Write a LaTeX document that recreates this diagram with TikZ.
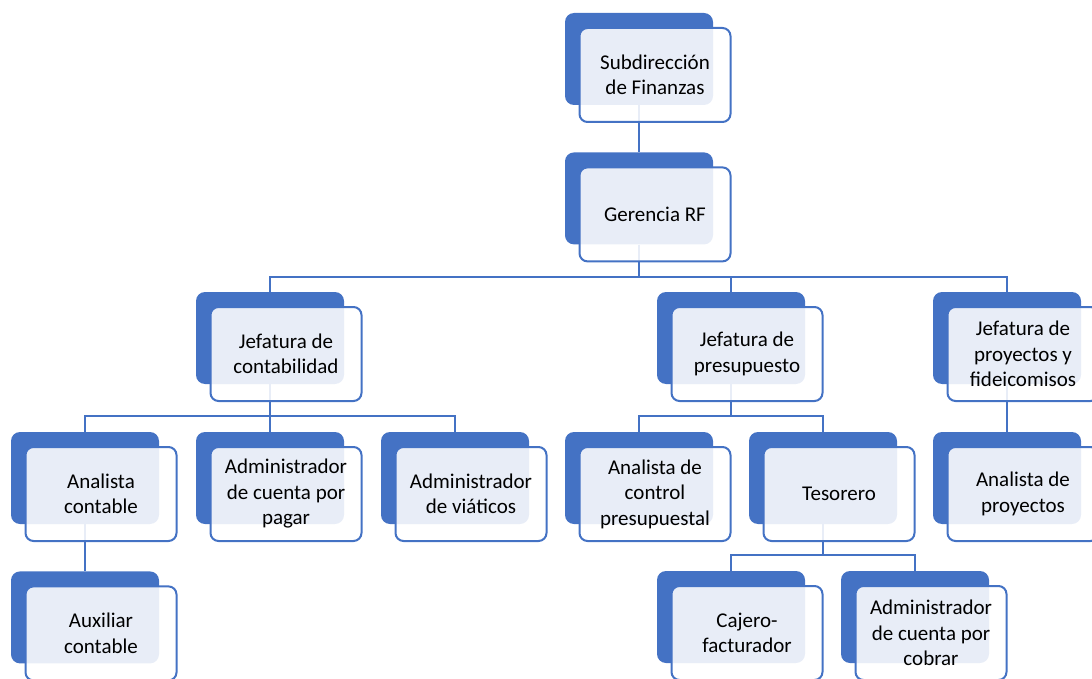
\documentclass[tikz,border=0pt]{standalone}
\usepackage{fontspec}
\setmainfont{Carlito}
\usetikzlibrary{positioning,backgrounds}
\definecolor{orgblue}{HTML}{4472C4}

\begin{document}
\begin{tikzpicture}[x=1pt,y=-1pt,
  every node/.style={font=\fontsize{21}{25.5}\selectfont},
  back/.style={fill=orgblue, rounded corners=9pt, inner sep=0pt,
    minimum width=148pt, minimum height=92pt},
  front/.style={draw=orgblue, line width=2pt, fill=white, fill opacity=0.88,
    text opacity=1, rounded corners=8pt, inner sep=0pt, align=center,
    minimum width=151pt, minimum height=94pt},
  link/.style={draw=orgblue, line width=2pt}]
\useasboundingbox (0,0) rectangle (1092,679);
\node[back] (subb) at (639,59) {};
\node[back] (gerb) [below=47pt of subb] {};
\node[back] (contb) at (270,338) {};
\node[back] (presb) at (731,338) {};
\node[back] (proyb) at (1007,338) {};
\node[back] (ancb) at (85,478) {};
\node[back] (adpb) at (270,478) {};
\node[back] (advb) at (455,478) {};
\node[back] (acpb) at (639,478) {};
\node[back] (tesb) at (823,478) {};
\node[back] (anpb) at (1007,478) {};
\node[back] (auxb) [below=47pt of ancb] {};
\node[back] (cajb) at (731,617) {};
\node[back] (adcb) at (915,617) {};

\path (subb) ++(16,16) node[front] (sub) {Subdirección\\de Finanzas};
\path (gerb) ++(16,16) node[front] (ger) {Gerencia RF};
\path (contb) ++(16,16) node[front] (cont) {Jefatura de\\contabilidad};
\path (presb) ++(16,16) node[front] (pres) {Jefatura de\\presupuesto};
\path (proyb) ++(16,16) node[front] (proy) {Jefatura de\\proyectos y\\fideicomisos};
\path (ancb) ++(16,16) node[front] (anc) {Analista\\contable};
\path (adpb) ++(16,16) node[front] (adp) {Administrador\\de cuenta por\\pagar};
\path (advb) ++(16,16) node[front] (adv) {Administrador\\de viáticos};
\path (acpb) ++(16,16) node[front] (acp) {Analista de\\control\\presupuestal};
\path (tesb) ++(16,16) node[front] (tes) {Tesorero};
\path (anpb) ++(16,16) node[front] (anp) {Analista de\\proyectos};
\path (auxb) ++(16,16) node[front] (aux) {Auxiliar\\contable};
\path (cajb) ++(16,16) node[front] (caj) {Cajero-\\facturador};
\path (adcb) ++(16,16) node[front] (adc) {Administrador\\de cuenta por\\cobrar};

% connectors behind the boxes
\begin{scope}[on background layer]
\draw[link] (subb.south) -- (gerb.north);
\draw[link] (gerb.south) -- ++(0,32) -| (contb.north);
\draw[link] (gerb.south) -- ++(0,32) -| (presb.north);
\draw[link] (gerb.south) -- ++(0,32) -| (proyb.north);
\draw[link] (contb.south) -- ++(0,32) -| (ancb.north);
\draw[link] (contb.south) -- ++(0,32) -| (adpb.north);
\draw[link] (contb.south) -- ++(0,32) -| (advb.north);
\draw[link] (presb.south) -- ++(0,32) -| (acpb.north);
\draw[link] (presb.south) -- ++(0,32) -| (tesb.north);
\draw[link] (proyb.south) -- (anpb.north);
\draw[link] (ancb.south) -- (auxb.north);
\draw[link] (tesb.south) -- ++(0,31) -| (cajb.north);
\draw[link] (tesb.south) -- ++(0,31) -| (adcb.north);
\end{scope}
\end{tikzpicture}
\end{document}
